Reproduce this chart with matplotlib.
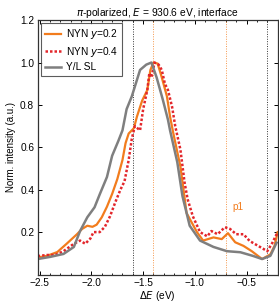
import numpy as np
import matplotlib
matplotlib.use("Agg")
import matplotlib.pyplot as plt
from matplotlib.ticker import MultipleLocator

ORANGE, RED, GRAY = "#f27c1d", "#e3262b", "#7f7f7f"

# NYN y=0.2
x_y02 = [-2.52, -2.43, -2.33, -2.24, -2.14, -2.09, -2.04, -1.99, -1.95, -1.90,
         -1.85, -1.80, -1.75, -1.70, -1.67, -1.64, -1.59, -1.56, -1.51, -1.46,
         -1.43, -1.40, -1.36, -1.32, -1.27, -1.24, -1.21, -1.14, -1.11, -1.08,
         -0.98, -0.92, -0.82, -0.74, -0.68, -0.61, -0.53, -0.45, -0.35, -0.27,
         -0.23, -0.20]
i_y02 = [0.080, 0.088, 0.106, 0.145, 0.190, 0.215, 0.230, 0.225, 0.235, 0.270,
         0.320, 0.380, 0.450, 0.540, 0.620, 0.665, 0.690, 0.745, 0.820, 0.870,
         0.965, 1.000, 0.995, 0.930, 0.840, 0.745, 0.670, 0.510, 0.400, 0.290,
         0.200, 0.160, 0.175, 0.167, 0.195, 0.152, 0.135, 0.110, 0.073, 0.095,
         0.135, 0.200]

# NYN y=0.4
x_y04 = [-2.52, -2.43, -2.35, -2.27, -2.17, -2.11, -2.06, -2.01, -1.98, -1.92,
         -1.87, -1.82, -1.77, -1.72, -1.68, -1.64, -1.61, -1.58, -1.53, -1.50,
         -1.46, -1.44, -1.42, -1.39, -1.35, -1.32, -1.29, -1.26, -1.22, -1.19,
         -1.14, -1.10, -1.07, -1.02, -0.95, -0.88, -0.84, -0.78, -0.71, -0.66,
         -0.60, -0.53, -0.47, -0.37, -0.30, -0.25, -0.20]
i_y04 = [0.087, 0.092, 0.092, 0.110, 0.145, 0.160, 0.145, 0.170, 0.200, 0.200,
         0.225, 0.275, 0.340, 0.400, 0.440, 0.540, 0.640, 0.700, 0.680, 0.780,
         0.870, 0.950, 0.930, 1.000, 0.990, 0.965, 0.900, 0.870, 0.790, 0.700,
         0.590, 0.435, 0.355, 0.275, 0.200, 0.180, 0.205, 0.190, 0.223, 0.215,
         0.190, 0.190, 0.158, 0.130, 0.110, 0.150, 0.200]

# Y/L SL
x_sl = [-2.52, -2.40, -2.27, -2.17, -2.11, -2.04, -1.97, -1.92, -1.85, -1.80,
        -1.74, -1.70, -1.66, -1.61, -1.53, -1.47, -1.42, -1.37, -1.31, -1.26,
        -1.24, -1.17, -1.12, -1.05, -0.95, -0.82, -0.69, -0.56, -0.44, -0.35,
        -0.27, -0.21]
i_sl = [0.073, 0.083, 0.097, 0.130, 0.205, 0.270, 0.317, 0.378, 0.460, 0.560,
        0.630, 0.680, 0.780, 0.840, 0.965, 0.990, 1.000, 0.930, 0.825, 0.730,
        0.680, 0.530, 0.370, 0.230, 0.160, 0.130, 0.110, 0.105, 0.088, 0.073,
        0.088, 0.150]

black_marks = [-1.6, -0.3]
orange_marks = [-1.4, -0.7]

plt.rcParams["font.family"] = ["Liberation Sans", "DejaVu Sans"]
plt.rcParams["font.size"] = 7

fig = plt.figure(figsize=(2.79, 3.05), dpi=100)
ax = fig.add_axes([0.135, 0.1, 0.86, 0.834])

for xv in black_marks:
    ax.axvline(xv, color="#333333", ls=(0, (1, 1.5)), lw=0.7)
for xv in orange_marks:
    ax.axvline(xv, color=ORANGE, ls=(0, (1, 1.5)), lw=0.7, alpha=0.8)

ax.plot(x_y02, i_y02, color=ORANGE, lw=1.6, label="NYN $y$=0.2")
ax.plot(x_y04, i_y04, color=RED, lw=1.8, ls=(0, (1, 0.8)), label="NYN $y$=0.4")
ax.plot(x_sl, i_sl, color=GRAY, lw=1.8, label="Y/L SL")

ax.text(-0.58, 0.32, "p1", color=ORANGE, fontsize=7.3, ha="center", va="center")

ax.set_xlim(-2.52, -0.2)
ax.set_ylim(0.0, 1.2)
ax.set_xticks([-2.5, -2.0, -1.5, -1.0, -0.5])
ax.set_xticklabels(["\u22122.5", "\u22122.0", "\u22121.5", "\u22121.0", "\u22120.5"])
ax.set_yticks([0.2, 0.4, 0.6, 0.8, 1.0, 1.2])
ax.xaxis.set_minor_locator(MultipleLocator(0.1))
ax.tick_params(which="both", direction="in", top=True, right=True, labelsize=7.3)
ax.tick_params(which="major", length=3, width=0.7, pad=2.5)
ax.tick_params(which="minor", length=1.6, width=0.6)
for s in ax.spines.values():
    s.set_linewidth(0.9)
    s.set_color("#333333")

ax.set_xlabel("$\\Delta E$ (eV)", fontsize=7.3, labelpad=0.5)
ax.set_ylabel("Norm. intensity (a.u.)", fontsize=7, labelpad=3)
ax.set_title("$\\pi$-polarized, $E$ = 930.6 eV, interface", fontsize=7.4, pad=3)

leg = ax.legend(loc="upper left", fontsize=7.3, frameon=True, fancybox=False,
                edgecolor="#333333", handlelength=1.6, handletextpad=0.5,
                borderaxespad=0.3, labelspacing=0.35, borderpad=0.4)
leg.get_frame().set_linewidth(0.8)

fig.savefig("out.png", dpi=100)
